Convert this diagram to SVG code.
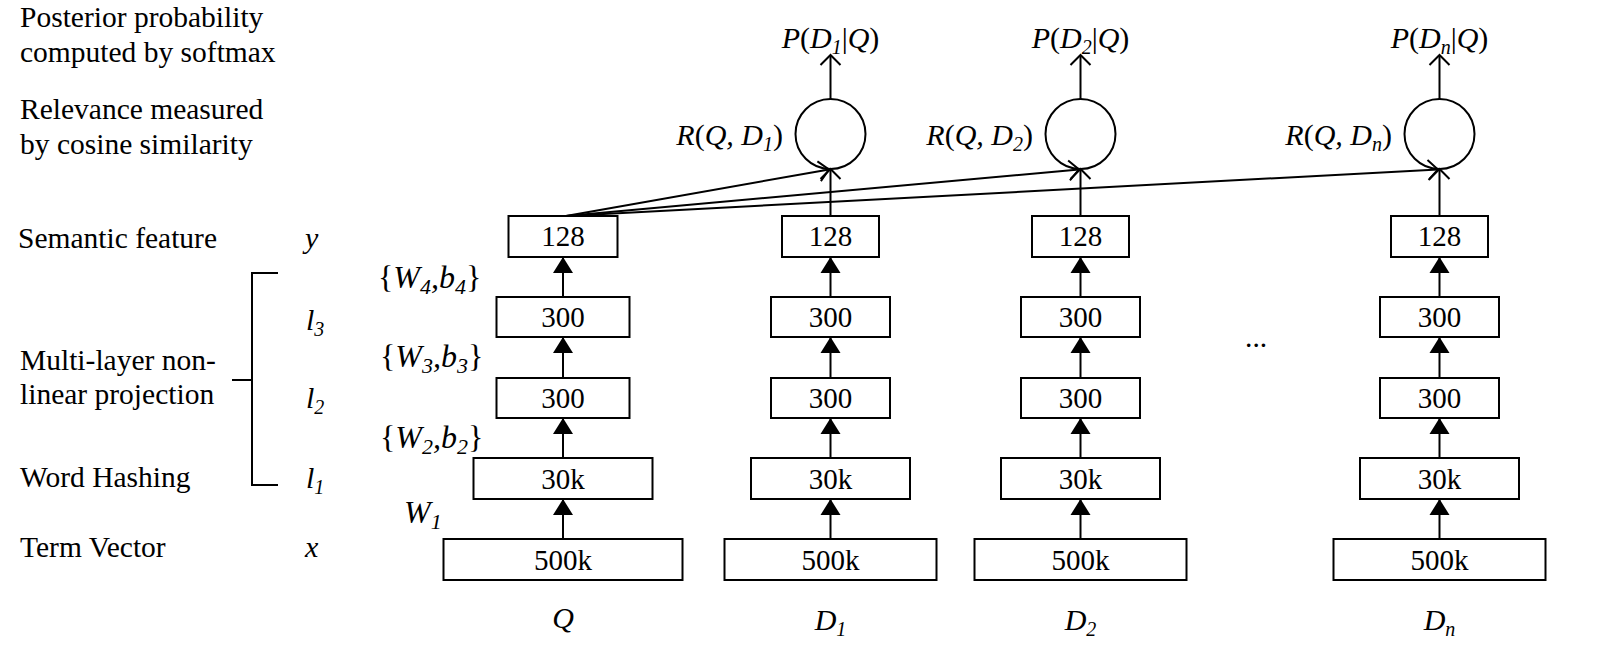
<svg xmlns="http://www.w3.org/2000/svg" width="1600" height="646" viewBox="0 0 1600 646">
<style>
text{font-family:"Liberation Serif","Times New Roman",serif;fill:#000}
.lbl{font-size:29.5px}
.num{font-size:29px;text-anchor:middle}
.m{font-size:30px;font-style:italic}
.w{font-size:32px;font-style:italic}
.c{text-anchor:middle}
.e{text-anchor:end}
.box{fill:#fff;stroke:#000;stroke-width:2}
.ln{stroke:#000;stroke-width:2;fill:none}
.circ{fill:#fff;stroke:#000;stroke-width:2}
.s{font-size:20px}
.sw{font-size:22px}
.u{font-style:normal}
</style>
<defs>
<marker id="fa" markerUnits="userSpaceOnUse" viewBox="-17 -11 18 22" refX="0" refY="0" markerWidth="18" markerHeight="22" orient="auto"><path d="M0,0 L-16,-10 L-16,10 Z" fill="#000"/></marker>
<marker id="oa" markerUnits="userSpaceOnUse" viewBox="-12 -12 14 24" refX="0" refY="0" markerWidth="14" markerHeight="24" orient="auto"><path d="M-10,-10 L0,0 L-10,10" fill="none" stroke="#000" stroke-width="2"/></marker>
</defs>
<rect width="1600" height="646" fill="#fff"/>

<g id="left-labels">
<text class="lbl" x="20" y="27">Posterior probability</text>
<text class="lbl" x="20" y="62">computed by softmax</text>
<text class="lbl" x="20" y="119">Relevance measured</text>
<text class="lbl" x="20" y="154">by cosine similarity</text>
<text class="lbl" x="18" y="248">Semantic feature</text>
<text class="lbl" x="20" y="370">Multi-layer non-</text>
<text class="lbl" x="20" y="404">linear projection</text>
<text class="lbl" x="20" y="487">Word Hashing</text>
<text class="lbl" x="20" y="557">Term Vector</text>
</g>
<g id="layer-vars">
<text class="m" x="305" y="248">y</text>
<text class="m" x="306" y="330">l<tspan class="s" dy="6">3</tspan></text>
<text class="m" x="306" y="408">l<tspan class="s" dy="6">2</tspan></text>
<text class="m" x="306" y="488">l<tspan class="s" dy="6">1</tspan></text>
<text class="m" x="305" y="557">x</text>
</g>
<g id="bracket">
<path class="ln" d="M278,273 H252 V485 H278 M232,380 H252"/>
</g>
<g id="weights">
<text class="w" x="378" y="288"><tspan class="u">{</tspan>W<tspan class="sw" dy="6">4</tspan><tspan dy="-6">,b</tspan><tspan class="sw" dy="6">4</tspan><tspan class="u" dy="-6">}</tspan></text>
<text class="w" x="380" y="367"><tspan class="u">{</tspan>W<tspan class="sw" dy="6">3</tspan><tspan dy="-6">,b</tspan><tspan class="sw" dy="6">3</tspan><tspan class="u" dy="-6">}</tspan></text>
<text class="w" x="380" y="448"><tspan class="u">{</tspan>W<tspan class="sw" dy="6">2</tspan><tspan dy="-6">,b</tspan><tspan class="sw" dy="6">2</tspan><tspan class="u" dy="-6">}</tspan></text>
<text class="w" x="404" y="523">W<tspan class="sw" dy="6">1</tspan></text>
</g>

<!-- Q column -->
<g id="q-128"><rect class="box" x="508.5" y="216" width="109" height="41"/><text class="num" x="563" y="246">128</text></g>
<g id="q-300a"><rect class="box" x="496.5" y="297" width="133" height="40"/><text class="num" x="563" y="327">300</text></g>
<g id="q-300b"><rect class="box" x="496.5" y="378" width="133" height="40"/><text class="num" x="563" y="408">300</text></g>
<g id="q-30k"><rect class="box" x="473.5" y="458" width="179" height="41"/><text class="num" x="563" y="489">30k</text></g>
<g id="q-500k"><rect class="box" x="443.5" y="539" width="239" height="41"/><text class="num" x="563" y="570">500k</text></g>
<text class="m c" x="563" y="628">Q</text>

<!-- D1 column -->
<g id="d1-128"><rect class="box" x="782" y="216" width="97" height="41"/><text class="num" x="830.5" y="246">128</text></g>
<g id="d1-300a"><rect class="box" x="771" y="297" width="119" height="40"/><text class="num" x="830.5" y="327">300</text></g>
<g id="d1-300b"><rect class="box" x="771" y="378" width="119" height="40"/><text class="num" x="830.5" y="408">300</text></g>
<g id="d1-30k"><rect class="box" x="751" y="458" width="159" height="41"/><text class="num" x="830.5" y="489">30k</text></g>
<g id="d1-500k"><rect class="box" x="724.5" y="539" width="212" height="41"/><text class="num" x="830.5" y="570">500k</text></g>
<text class="m c" x="830.5" y="630">D<tspan class="s" dy="6">1</tspan></text>
<g id="r1"><circle class="circ" cx="830.5" cy="134" r="35"/><text class="m e" x="783" y="145">R<tspan class="u">(</tspan>Q, D<tspan class="s" dy="6">1</tspan><tspan class="u" dy="-6">)</tspan></text></g>
<text class="m c" x="830.5" y="48">P<tspan class="u">(</tspan>D<tspan class="s" dy="6">1</tspan><tspan class="u" dy="-6">|</tspan>Q<tspan class="u">)</tspan></text>

<!-- D2 column -->
<g id="d2-128"><rect class="box" x="1032" y="216" width="97" height="41"/><text class="num" x="1080.5" y="246">128</text></g>
<g id="d2-300a"><rect class="box" x="1021" y="297" width="119" height="40"/><text class="num" x="1080.5" y="327">300</text></g>
<g id="d2-300b"><rect class="box" x="1021" y="378" width="119" height="40"/><text class="num" x="1080.5" y="408">300</text></g>
<g id="d2-30k"><rect class="box" x="1001" y="458" width="159" height="41"/><text class="num" x="1080.5" y="489">30k</text></g>
<g id="d2-500k"><rect class="box" x="974.5" y="539" width="212" height="41"/><text class="num" x="1080.5" y="570">500k</text></g>
<text class="m c" x="1080.5" y="630">D<tspan class="s" dy="6">2</tspan></text>
<g id="r2"><circle class="circ" cx="1080.5" cy="134" r="35"/><text class="m e" x="1033" y="145">R<tspan class="u">(</tspan>Q, D<tspan class="s" dy="6">2</tspan><tspan class="u" dy="-6">)</tspan></text></g>
<text class="m c" x="1080.5" y="48">P<tspan class="u">(</tspan>D<tspan class="s" dy="6">2</tspan><tspan class="u" dy="-6">|</tspan>Q<tspan class="u">)</tspan></text>

<text class="lbl" x="1245" y="347">...</text>

<!-- Dn column -->
<g id="dn-128"><rect class="box" x="1391" y="216" width="97" height="41"/><text class="num" x="1439.5" y="246">128</text></g>
<g id="dn-300a"><rect class="box" x="1380" y="297" width="119" height="40"/><text class="num" x="1439.5" y="327">300</text></g>
<g id="dn-300b"><rect class="box" x="1380" y="378" width="119" height="40"/><text class="num" x="1439.5" y="408">300</text></g>
<g id="dn-30k"><rect class="box" x="1360" y="458" width="159" height="41"/><text class="num" x="1439.5" y="489">30k</text></g>
<g id="dn-500k"><rect class="box" x="1333.5" y="539" width="212" height="41"/><text class="num" x="1439.5" y="570">500k</text></g>
<text class="m c" x="1439.5" y="630">D<tspan class="s" dy="6">n</tspan></text>
<g id="rn"><circle class="circ" cx="1439.5" cy="134" r="35"/><text class="m e" x="1392" y="145">R<tspan class="u">(</tspan>Q, D<tspan class="s" dy="6">n</tspan><tspan class="u" dy="-6">)</tspan></text></g>
<text class="m c" x="1439.5" y="48">P<tspan class="u">(</tspan>D<tspan class="s" dy="6">n</tspan><tspan class="u" dy="-6">|</tspan>Q<tspan class="u">)</tspan></text>

<g id="connectors" class="ln">
<path class="ln" marker-end="url(#fa)" d="M563,539 V499"/>
<path class="ln" marker-end="url(#fa)" d="M563,458 V418"/>
<path class="ln" marker-end="url(#fa)" d="M563,378 V337"/>
<path class="ln" marker-end="url(#fa)" d="M563,297 V257"/>
<path class="ln" marker-end="url(#fa)" d="M830.5,539 V499"/>
<path class="ln" marker-end="url(#fa)" d="M830.5,458 V418"/>
<path class="ln" marker-end="url(#fa)" d="M830.5,378 V337"/>
<path class="ln" marker-end="url(#fa)" d="M830.5,297 V257"/>
<path class="ln" marker-end="url(#fa)" d="M1080.5,539 V499"/>
<path class="ln" marker-end="url(#fa)" d="M1080.5,458 V418"/>
<path class="ln" marker-end="url(#fa)" d="M1080.5,378 V337"/>
<path class="ln" marker-end="url(#fa)" d="M1080.5,297 V257"/>
<path class="ln" marker-end="url(#fa)" d="M1439.5,539 V499"/>
<path class="ln" marker-end="url(#fa)" d="M1439.5,458 V418"/>
<path class="ln" marker-end="url(#fa)" d="M1439.5,378 V337"/>
<path class="ln" marker-end="url(#fa)" d="M1439.5,297 V257"/>
<path class="ln" marker-end="url(#oa)" d="M830.5,216 V169"/>
<path class="ln" marker-end="url(#oa)" d="M1080.5,216 V169"/>
<path class="ln" marker-end="url(#oa)" d="M1439.5,216 V169"/>
<path class="ln" marker-end="url(#oa)" d="M830.5,99 V55"/>
<path class="ln" marker-end="url(#oa)" d="M1080.5,99 V55"/>
<path class="ln" marker-end="url(#oa)" d="M1439.5,99 V55"/>
<path class="ln" marker-end="url(#oa)" d="M566,216 L829,169.5"/>
<path class="ln" marker-end="url(#oa)" d="M566,216 L1079,169.5"/>
<path class="ln" marker-end="url(#oa)" d="M566,216 L1438,169.5"/>
</g>
</svg>
